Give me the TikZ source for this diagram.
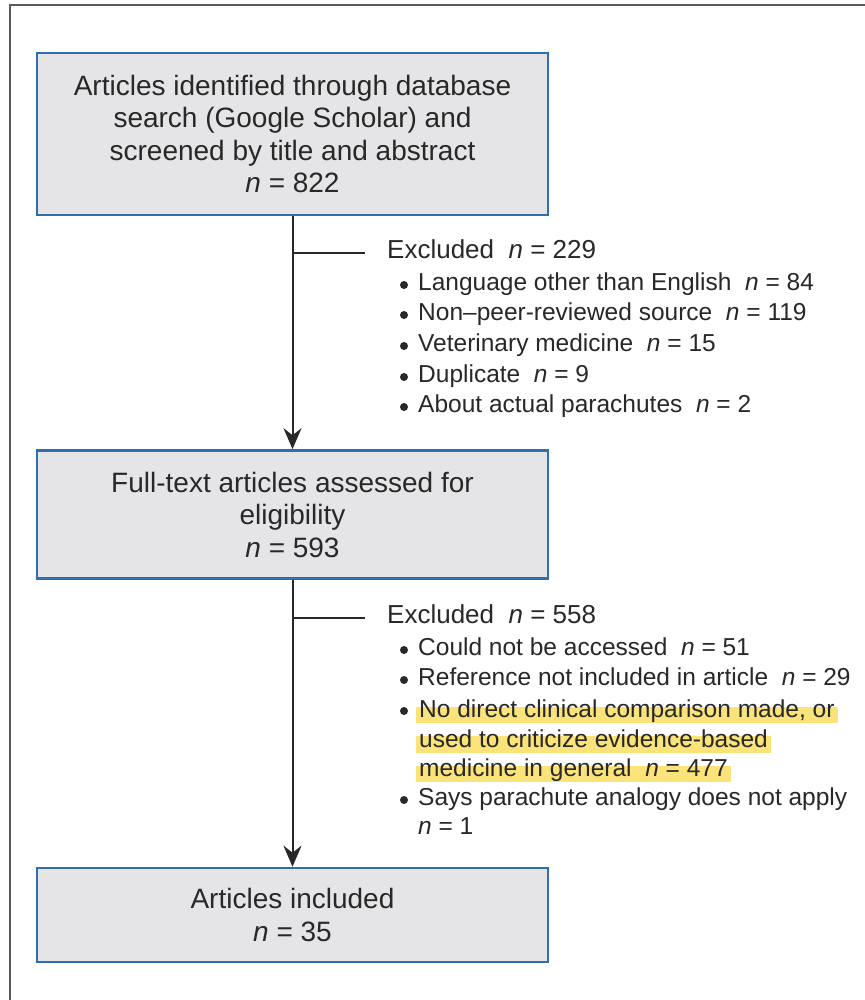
\documentclass[tikz,border=0pt]{standalone}
\usepackage{fontspec}
\setmainfont{Liberation Sans}
\usetikzlibrary{arrows.meta}
\definecolor{boxblue}{RGB}{47,110,175}
\definecolor{boxgray}{RGB}{229,229,231}
\definecolor{txt}{RGB}{40,40,40}
\definecolor{hl}{RGB}{250,227,120}
\definecolor{framec}{RGB}{90,90,90}
\begin{document}
\begin{tikzpicture}[x=1pt,y=-1pt,
  stagebox/.style={draw=boxblue,line width=2.6pt,fill=boxgray,minimum width=511pt,
    align=center,inner sep=0pt,text=txt,font=\fontsize{28}{32.5}\selectfont},
  exhead/.style={anchor=west,inner sep=0pt,text=txt,font=\fontsize{26}{30}\selectfont,
    text height=0.75em,text depth=0.25em},
  exitem/.style={anchor=west,inner sep=0pt,text=txt,font=\fontsize{24.5}{30}\selectfont,
    text height=0.75em,text depth=0.25em},
  bul/.style={circle,fill=txt,inner sep=0pt,minimum size=8pt},
  hlitem/.style={exitem,fill=hl,inner xsep=3pt,inner ysep=3.2pt},
  flow/.style={draw=txt,line width=2pt,-{Stealth[length=21pt,width=18pt,inset=7pt]}},
  branch/.style={draw=txt,line width=2.2pt}]
\useasboundingbox (0,0) rectangle (864,1000);
\fill[white] (0,0) rectangle (864,1000);
% frame (cropped: top and left edges visible)
\draw[framec,line width=2.6pt] (10,1002) -- (10,5) -- (866,5);

% boxes
\node[stagebox,minimum height=162pt] (b1) at (292.5,134) {Articles identified through database\\search (Google Scholar) and\\screened by title and abstract\\{\itshape n} = 822};
\node[stagebox,minimum height=128pt] (b2) at (292.5,514.5) {Full-text articles assessed for\\eligibility\\{\itshape n} = 593};
\node[stagebox,minimum height=94pt] (b3) at (292.5,915) {Articles included\\{\itshape n} = 35};

% flow arrows
\draw[flow] (b1.south) -- (b2.north);
\draw[flow] (b2.south) -- (b3.north);

% first exclusion
\coordinate (e1) at (365,253);
\draw[branch] (b1.south |- e1) -- (e1);
\node[exhead] (x1) at (387,256) {Excluded\ \ {\itshape n} = 229};
\foreach \y/\t [count=\i] in {288/{Language other than English\ \ {\itshape n} = 84},
  318/{Non–peer-reviewed source\ \ {\itshape n} = 119},
  349/{Veterinary medicine\ \ {\itshape n} = 15},
  380/{Duplicate\ \ {\itshape n} = 9},
  410/{About actual parachutes\ \ {\itshape n} = 2}}{
  \node[bul] (ba\i) at (404,\y-3) {};
  \node[exitem] (ia\i) at (418,\y) {\t};
}

% second exclusion
\coordinate (e2) at (365,618);
\draw[branch] (b2.south |- e2) -- (e2);
\node[exhead] (x2) at (387,621) {Excluded\ \ {\itshape n} = 558};
\node[bul] (bb1) at (404,650) {};
\node[exitem] (ib1) at (418,653) {Could not be accessed\ \ {\itshape n} = 51};
\node[bul] (bb2) at (404,680) {};
\node[exitem] (ib2) at (418,683) {Reference not included in article\ \ {\itshape n} = 29};
\node[bul] (bb3) at (404,711) {};
\node[hlitem] (ib3) at (416,715) {No direct clinical comparison made, or};
\node[hlitem] (ib4) at (416,744.5) {used to criticize evidence-based};
\node[hlitem] (ib5) at (416,774) {medicine in general\ \ {\itshape n} = 477};
\node[bul] (bb4) at (404,800) {};
\node[exitem] (ib6) at (418,803) {Says parachute analogy does not apply};
\node[exitem] (ib7) at (418,832) {{\itshape n} = 1};
\end{tikzpicture}
\end{document}
